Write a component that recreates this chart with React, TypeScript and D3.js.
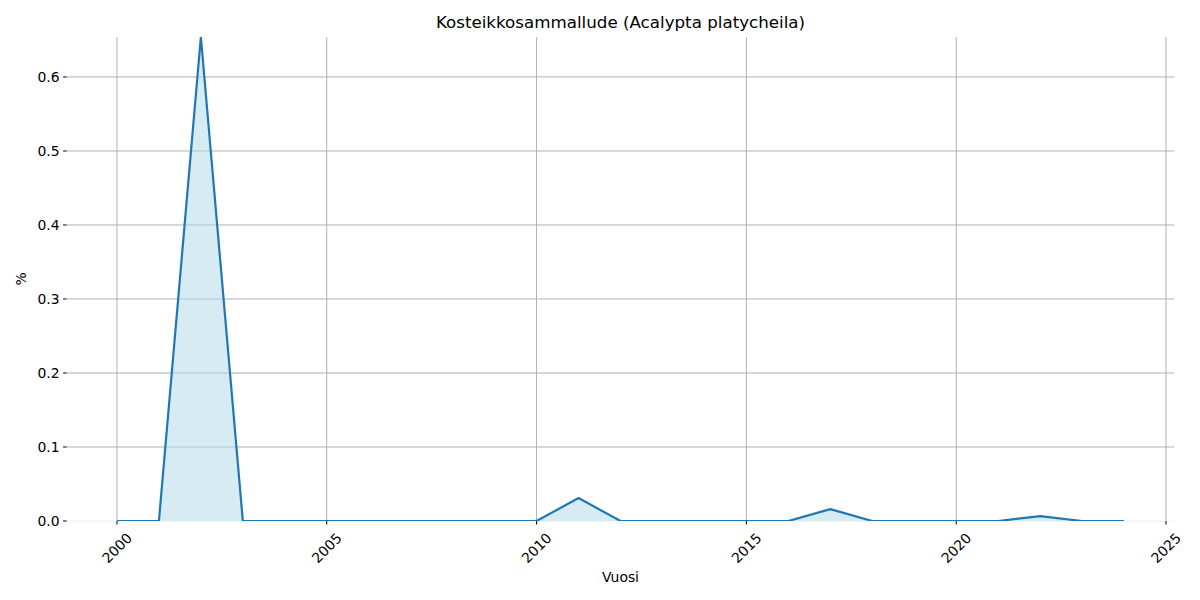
import React from "react";
import * as d3 from "d3";

const years = [2000,2001,2002,2003,2004,2005,2006,2007,2008,2009,2010,2011,2012,2013,2014,2015,2016,2017,2018,2019,2020,2021,2022,2023,2024];
const values = [0,0,0.654,0,0,0,0,0,0,0,0,0.031,0,0,0,0,0,0.016,0,0,0,0,0.0065,0,0];
const xTicks = [2000,2005,2010,2015,2020,2025];
const yTicks = [0,0.1,0.2,0.3,0.4,0.5,0.6];
const title = "Kosteikkosammallude (Acalypta platycheila)";
const xLabel = "Vuosi";
const yLabel = "%";

export default function App() {
  const W = 1200, H = 600;
  const left = 66.6, right = 1174.4, top = 37, bottom = 521;
  const x = d3.scaleLinear().domain([1998.8, 2025.2]).range([left, right]);
  const maxV = d3.max(values) as number;
  const y = d3.scaleLinear().domain([0, maxV]).range([bottom, top]);
  const pts: [number, number][] = years.map((yr, i) => [yr, values[i]]);
  const line = d3.line<[number, number]>().x(d => x(d[0])).y(d => y(d[1]));
  const area = d3.area<[number, number]>().x(d => x(d[0])).y0(y(0)).y1(d => y(d[1]));
  const font = "DejaVu Sans, sans-serif";
  return (
    <svg width={W} height={H} style={{ position: "absolute", left: 0, top: 0 }} fontFamily={font}>
      <rect width={W} height={H} fill="white" />
      <defs>
        <clipPath id="plot">
          <rect x={left} y={top} width={right - left} height={bottom - top} />
        </clipPath>
      </defs>
      {xTicks.map(t => (
        <line key={"gx" + t} x1={x(t)} x2={x(t)} y1={top} y2={bottom} stroke="#b0b0b0" strokeWidth={1} />
      ))}
      {yTicks.map(t => (
        <line key={"gy" + t} x1={left} x2={right} y1={y(t)} y2={y(t)} stroke={t === 0 ? "#f0f0f0" : "#b0b0b0"} strokeWidth={1} />
      ))}
      <g clipPath="url(#plot)">
        <path d={area(pts) as string} fill="#add8e6" fillOpacity={0.5} />
        <path d={line(pts) as string} fill="none" stroke="#1f77b4" strokeWidth={2.2} strokeLinejoin="round" />
      </g>
      {yTicks.map(t => (
        <g key={"ty" + t}>
          <line x1={left - 3.5} x2={left} y1={y(t)} y2={y(t)} stroke="black" strokeWidth={1} />
          <text x={left - 7} y={y(t)} textAnchor="end" dominantBaseline="central" fontSize={13.9}>{t.toFixed(1)}</text>
        </g>
      ))}
      {xTicks.map(t => (
        <g key={"tx" + t}>
          <line x1={x(t)} x2={x(t)} y1={bottom} y2={bottom + 3.5} stroke="black" strokeWidth={1} />
          <text transform={`translate(${x(t)},${bottom + 27}) rotate(-45)`} textAnchor="middle" dominantBaseline="central" fontSize={13.9}>{t}</text>
        </g>
      ))}
      <text x={(left + right) / 2} y={28} textAnchor="middle" fontSize={16.7}>{title}</text>
      <text x={(left + right) / 2} y={582} textAnchor="middle" fontSize={13.9}>{xLabel}</text>
      <text transform={`translate(26,${(top + bottom) / 2}) rotate(-90)`} textAnchor="middle" fontSize={13.9}>{yLabel}</text>
    </svg>
  );
}
